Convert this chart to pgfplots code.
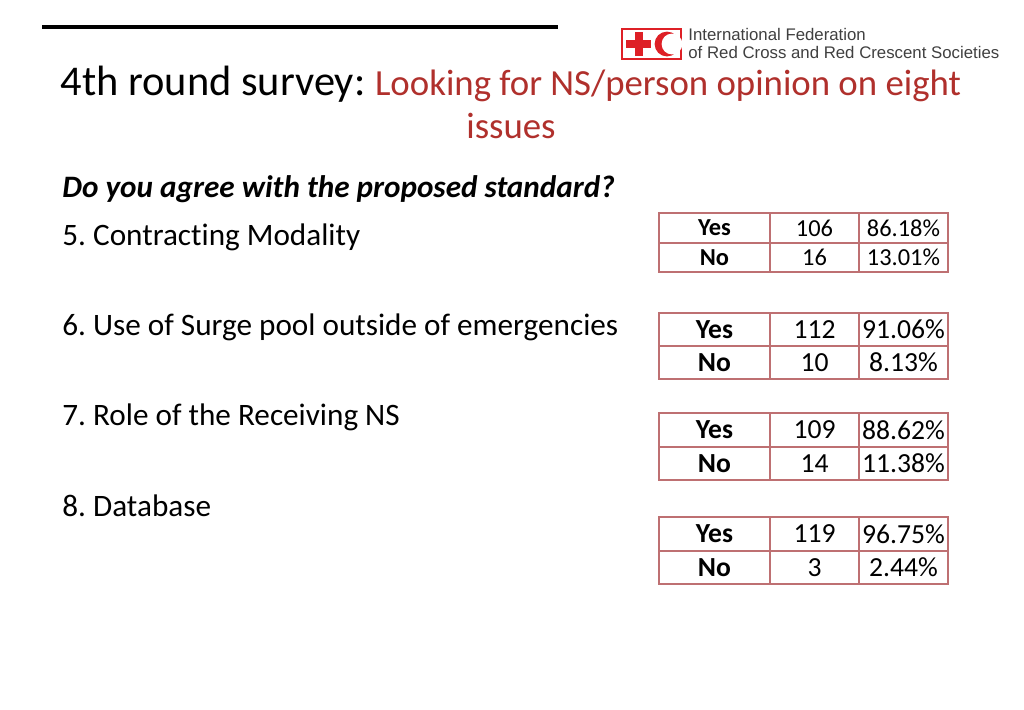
\documentclass[border=0pt]{standalone}
\usepackage{pgfplots}
\pgfplotsset{compat=1.18}
\usepackage{fontspec}
\setmainfont{Carlito}[Ligatures=NoCommon]
\newfontfamily\arial{Liberation Sans}
\frenchspacing
\definecolor{tred}{RGB}{176,48,44}
\definecolor{bord}{RGB}{190,112,114}
\definecolor{ifrc}{RGB}{222,32,38}
% table: top, mid, bottom, yes n, yes pct, no n, no pct, font size
\newcommand{\restab}[8]{%
  \draw[bord, line width=1pt] (axis cs:659,#1) rectangle (axis cs:948,#3);
  \draw[bord, line width=1pt] (axis cs:659,#2) -- (axis cs:948,#2);
  \draw[bord, line width=1pt] (axis cs:770,#1) -- (axis cs:770,#3);
  \draw[bord, line width=1pt] (axis cs:859,#1) -- (axis cs:859,#3);
  \node[font=\fontsize{#8}{#8}\selectfont\bfseries] at (axis cs:714.5,{(#1+#2)/2}) {Yes};
  \node[font=\fontsize{#8}{#8}\selectfont\bfseries] at (axis cs:714.5,{(#2+#3)/2}) {No};
  \node[font=\fontsize{#8}{#8}\selectfont] at (axis cs:814.5,{(#1+#2)/2}) {#4};
  \node[font=\fontsize{#8}{#8}\selectfont] at (axis cs:814.5,{(#2+#3)/2}) {#6};
  \node[font=\fontsize{#8}{#8}\selectfont] at (axis cs:903.5,{(#1+#2)/2}) {#5\%};
  \node[font=\fontsize{#8}{#8}\selectfont] at (axis cs:903.5,{(#2+#3)/2}) {#7\%};
}
\begin{document}
\begin{tikzpicture}
\begin{axis}[scale only axis, width=512pt, height=354.5pt,
  xmin=0, xmax=1024, ymin=0, ymax=709, y dir=reverse,
  hide axis, clip=false]
\fill[white] (rel axis cs:0,0) rectangle (rel axis cs:1,1);
% top rule
\draw[black, line width=2pt] (axis cs:42,27) -- (axis cs:558,27);
% logo
\draw[ifrc, line width=0.8pt] (axis cs:622,29) rectangle (axis cs:681,59);
\fill[ifrc] (axis cs:626,40) rectangle (axis cs:651,48);
\fill[ifrc] (axis cs:634.5,32) rectangle (axis cs:642.5,56);
\fill[ifrc] (axis cs:667,44) circle[radius=6.2pt];
\fill[white] (axis cs:672,44) circle[radius=5.2pt];
\node[anchor=base west, inner sep=0pt, font=\arial\fontsize{8.4}{8.4}\selectfont, text=black!75] at (axis cs:688,40) {International Federation};
\node[anchor=base west, inner sep=0pt, font=\arial\fontsize{8.4}{8.4}\selectfont, text=black!75] at (axis cs:688,58) {of Red Cross and Red Crescent Societies};
% title
\node[anchor=base, inner sep=0pt, font=\fontsize{21.2}{21.2}\selectfont] at (axis cs:511,95) {4th round survey: \textcolor{tred}{\fontsize{18.4}{18.4}\selectfont Looking for NS/person opinion on eight}};
\node[anchor=base, inner sep=0pt, font=\fontsize{18.4}{18.4}\selectfont, text=tred] at (axis cs:511,138) {issues};
% questions
\node[anchor=base west, inner sep=0pt, font=\fontsize{15.6}{15.6}\selectfont\bfseries\itshape] at (axis cs:62,197) {Do you agree with the proposed standard?};
\node[anchor=base west, inner sep=0pt, font=\fontsize{15.6}{15.6}\selectfont] at (axis cs:62,245) {5. Contracting Modality};
\node[anchor=base west, inner sep=0pt, font=\fontsize{15.6}{15.6}\selectfont] at (axis cs:62,335) {6. Use of Surge pool outside of emergencies};
\node[anchor=base west, inner sep=0pt, font=\fontsize{15.6}{15.6}\selectfont] at (axis cs:62,425) {7. Role of the Receiving NS};
\node[anchor=base west, inner sep=0pt, font=\fontsize{15.6}{15.6}\selectfont] at (axis cs:62,516) {8. Database};
% tables
\restab{213}{243}{272}{106}{86.18}{16}{13.01}{12.2}
\restab{313}{346}{379}{112}{91.06}{10}{8.13}{13.8}
\restab{413}{447}{480}{109}{88.62}{14}{11.38}{13.8}
\restab{517}{551}{584}{119}{96.75}{3}{2.44}{13.8}
\end{axis}
\end{tikzpicture}
\end{document}
